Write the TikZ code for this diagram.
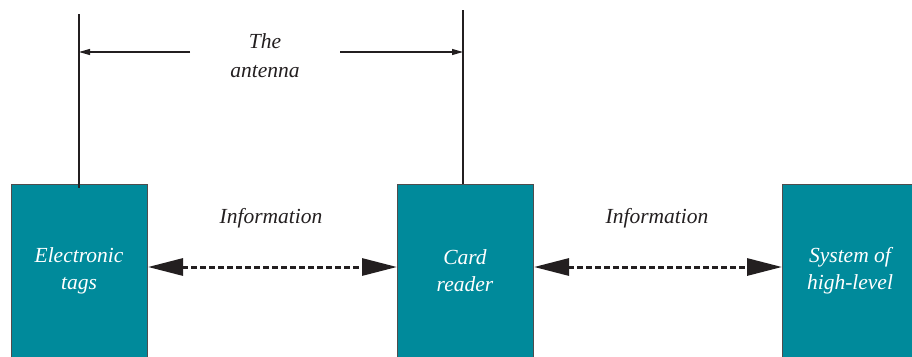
\documentclass[tikz,border=0pt]{standalone}
\usepackage{fontspec}
\setmainfont{Liberation Serif}
\usetikzlibrary{arrows.meta}
\definecolor{blockteal}{HTML}{008A9B}
\definecolor{inkdark}{HTML}{231F20}
\tikzset{
  block/.style={draw=inkdark!80, line width=1pt, fill=blockteal, anchor=north west,
    minimum width=136pt, minimum height=200pt, inner sep=0pt},
  blocklabel/.style={text=white, align=center, font=\fontsize{21.5}{27}\selectfont\itshape},
  plainlabel/.style={text=inkdark, align=center, font=\fontsize{21.5}{29}\selectfont\itshape},
  antennaline/.style={draw=inkdark, line width=1.1pt},
  spanarrow/.style={draw=inkdark, line width=1.1pt, -{Triangle[length=11pt,width=6pt]}},
  infolink/.style={draw=inkdark, line width=3pt, dash pattern=on 6pt off 3pt,
    {Triangle[length=35pt,width=17pt]}-{Triangle[length=35pt,width=17pt]}}
}
\begin{document}
\begin{tikzpicture}[x=1pt,y=-1pt]
\useasboundingbox (0,0) rectangle (912,356);
\begin{scope}
\clip (0,0) rectangle (912,356);
% the three blocks
\node[block] (tag) at (11,184) {};
\node[block] (reader) at (397,184) {};
\node[block] (system) at (782,184) {};
\end{scope}

% block texts
\node[blocklabel] (taglbl) at (79,271) {Electronic\\tags};
\node[blocklabel] (readerlbl) at (465,271) {Card\\reader};
\node[blocklabel] (systemlbl) at (850,271) {System of\\high-level};

% antennas
\coordinate (anttop1) at (79,14);
\coordinate (anttop2) at (463,10);
\draw[antennaline] (anttop1) -- (tag.north west -| anttop1) -- ++(0,4);
\draw[antennaline] (anttop2) -- (reader.north west -| anttop2);

% antenna span annotation
\node[plainlabel] (antlbl) at (265,56) {The\\antenna};
\coordinate (spanL) at (190,52);
\coordinate (spanR) at (340,52);
\draw[spanarrow] (spanL) -- (spanL -| anttop1);
\draw[spanarrow] (spanR) -- (spanR -| anttop2);

% information links
\coordinate (linky) at (0,267);
\draw[infolink] (tag.north east |- linky) -- (reader.north west |- linky);
\draw[infolink] (reader.north east |- linky) -- (system.north west |- linky);
\node[plainlabel] (info1) at (271,218) {Information};
\node[plainlabel] (info2) at (657,218) {Information};
\end{tikzpicture}
\end{document}
